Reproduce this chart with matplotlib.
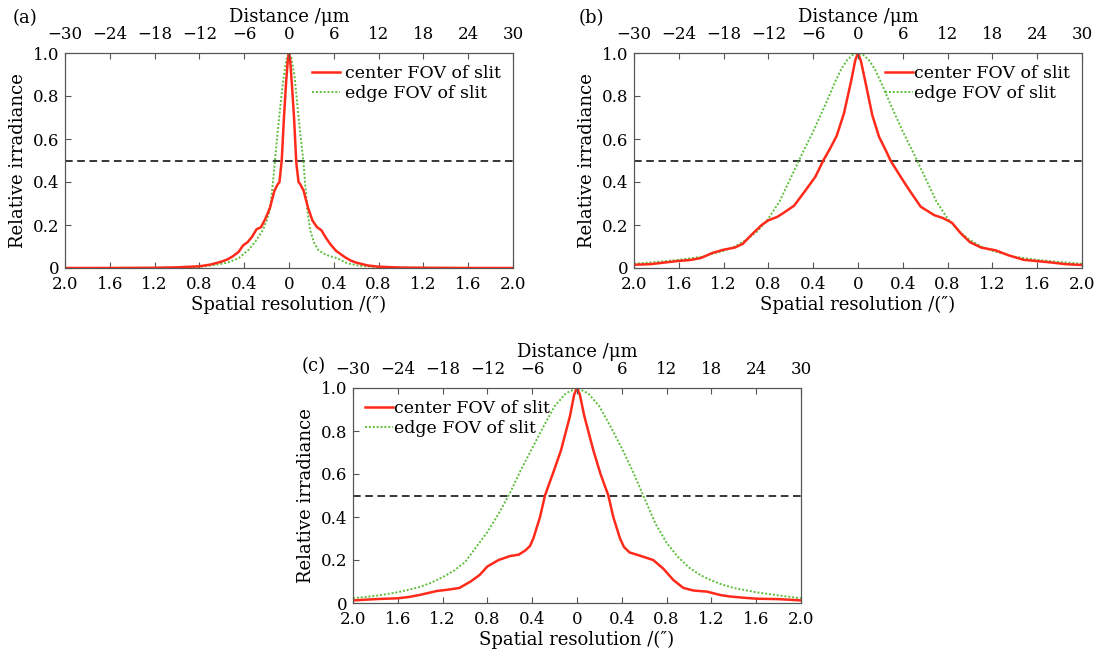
import matplotlib
matplotlib.use("Agg")
import matplotlib.pyplot as plt

plt.rcParams['font.family'] = ['DejaVu Serif']
plt.rcParams['font.size'] = 12

# bottom / top axis ticks
res_ticks = [-2.0, -1.6, -1.2, -0.8, -0.4, 0, 0.4, 0.8, 1.2, 1.6, 2.0]
res_labels = ["2.0", "1.6", "1.2", "0.8", "0.4", "0", "0.4", "0.8", "1.2", "1.6", "2.0"]
dist_ticks = [-30, -24, -18, -12, -6, 0, 6, 12, 18, 24, 30]
y_ticks = [0, 0.2, 0.4, 0.6, 0.8, 1.0]
y_labels = ["0", "0.2", "0.4", "0.6", "0.8", "1.0"]

# (a) center FOV
a_cx = [-2.0, -1.6, -1.2, -1.0, -0.8, -0.7, -0.6, -0.55, -0.5, -0.45, -0.41, -0.37, -0.33,
        -0.29, -0.25, -0.21, -0.17, -0.13, -0.1, -0.085, -0.065, -0.045, -0.025, -0.01, 0,
        0.01, 0.025, 0.045, 0.065, 0.085, 0.1, 0.13, 0.17, 0.21, 0.25, 0.29, 0.33, 0.37, 0.42,
        0.5, 0.55, 0.6, 0.7, 0.8, 1.0, 1.2, 1.6, 2.0]
a_cy = [0, 0, 0.001, 0.003, 0.008, 0.016, 0.03, 0.04, 0.055, 0.075, 0.105, 0.12, 0.145,
        0.18, 0.19, 0.23, 0.28, 0.36, 0.39, 0.40, 0.50, 0.70, 0.87, 0.97, 1.0,
        0.97, 0.86, 0.70, 0.49, 0.40, 0.39, 0.36, 0.28, 0.22, 0.19, 0.175, 0.14, 0.11, 0.08,
        0.05, 0.035, 0.025, 0.012, 0.006, 0.002, 0.001, 0, 0]
# (a) edge FOV
a_ex = [-2.0, -1.2, -1.0, -0.8, -0.65, -0.55, -0.45, -0.36, -0.29, -0.23, -0.2, -0.17,
        -0.145, -0.125, -0.1, -0.08, -0.05, -0.02, 0, 0.02, 0.05, 0.08, 0.1, 0.128, 0.143,
        0.164, 0.187, 0.21, 0.226, 0.26, 0.3, 0.34, 0.43, 0.52, 0.63, 0.8, 1.0, 1.2, 2.0]
a_ey = [0, 0.001, 0.002, 0.005, 0.015, 0.025, 0.045, 0.085, 0.13, 0.18, 0.22, 0.27,
        0.39, 0.5, 0.64, 0.74, 0.88, 0.98, 1.0, 0.98, 0.89, 0.73, 0.63, 0.50, 0.40,
        0.27, 0.18, 0.14, 0.115, 0.085, 0.07, 0.06, 0.045, 0.022, 0.01, 0.004, 0.002, 0.001, 0]

# (b) center FOV
b_cx = [-2.0, -1.85, -1.7, -1.6, -1.5, -1.4, -1.3, -1.2, -1.1, -1.03, -0.95, -0.86, -0.8,
        -0.72, -0.66, -0.57, -0.47, -0.38, -0.31, -0.25, -0.19, -0.125, -0.057, -0.025, 0,
        0.025, 0.06, 0.128, 0.188, 0.25, 0.29, 0.38, 0.457, 0.56, 0.68, 0.76, 0.84, 0.92, 1.0,
        1.1, 1.23, 1.35, 1.48, 1.6, 1.72, 1.85, 2.0]
b_cy = [0.015, 0.018, 0.027, 0.033, 0.037, 0.047, 0.07, 0.085, 0.095, 0.112, 0.155, 0.2, 0.222,
        0.238, 0.258, 0.29, 0.36, 0.425, 0.50, 0.555, 0.615, 0.72, 0.88, 0.965, 1.0,
        0.965, 0.88, 0.71, 0.61, 0.545, 0.50, 0.425, 0.363, 0.285, 0.246, 0.232, 0.21, 0.16, 0.12,
        0.095, 0.082, 0.058, 0.038, 0.032, 0.026, 0.018, 0.014]
# (b) edge FOV
b_ex = [-2.0, -1.8, -1.6, -1.4, -1.2, -1.1, -1.0, -0.9, -0.8, -0.7, -0.6, -0.5, -0.4, -0.3,
        -0.2, -0.15, -0.1, -0.05, 0, 0.05, 0.1, 0.15, 0.2, 0.3, 0.4, 0.5, 0.6, 0.7, 0.8, 0.9,
        1.0, 1.1, 1.2, 1.4, 1.6, 1.8, 2.0]
b_ey = [0.02, 0.028, 0.038, 0.052, 0.08, 0.1, 0.13, 0.17, 0.23, 0.31, 0.42, 0.53, 0.635, 0.75,
        0.87, 0.925, 0.965, 0.99, 1.0, 0.99, 0.965, 0.925, 0.87, 0.75, 0.635, 0.53, 0.42, 0.31,
        0.23, 0.17, 0.13, 0.1, 0.08, 0.052, 0.038, 0.028, 0.02]

# (c) center FOV
c_cx = [-2.0, -1.8, -1.6, -1.5, -1.4, -1.25, -1.15, -1.05, -0.95, -0.87, -0.8, -0.7, -0.6,
        -0.52, -0.46, -0.42, -0.39, -0.33, -0.286, -0.21, -0.143, -0.0625, -0.025, 0,
        0.025, 0.065, 0.146, 0.21, 0.28, 0.324, 0.384, 0.42, 0.47, 0.5625, 0.68, 0.77, 0.86,
        0.95, 1.04, 1.16, 1.28, 1.37, 1.5, 1.6, 1.8, 2.0]
c_cy = [0.012, 0.018, 0.022, 0.028, 0.038, 0.056, 0.062, 0.07, 0.1, 0.13, 0.17, 0.2, 0.218,
        0.225, 0.245, 0.265, 0.30, 0.40, 0.50, 0.61, 0.71, 0.87, 0.97, 1.0,
        0.97, 0.87, 0.71, 0.60, 0.50, 0.40, 0.30, 0.26, 0.235, 0.22, 0.20, 0.16, 0.107,
        0.07, 0.058, 0.053, 0.037, 0.03, 0.024, 0.02, 0.018, 0.012]
# (c) edge FOV
c_ex = [-2.0, -1.8, -1.6, -1.4, -1.3, -1.2, -1.1, -1.0, -0.9, -0.8, -0.7, -0.6, -0.5, -0.4,
        -0.3, -0.2, -0.1, 0, 0.1, 0.2, 0.3, 0.4, 0.5, 0.6, 0.7, 0.8, 0.9, 1.0, 1.1, 1.2,
        1.3, 1.4, 1.6, 1.8, 2.0]
c_ey = [0.022, 0.033, 0.05, 0.075, 0.095, 0.12, 0.15, 0.19, 0.26, 0.33, 0.415, 0.51, 0.62, 0.72,
        0.82, 0.915, 0.975, 1.0, 0.975, 0.915, 0.82, 0.72, 0.61, 0.49, 0.37, 0.28, 0.215, 0.165,
        0.13, 0.105, 0.085, 0.07, 0.05, 0.035, 0.022]

RED = '#ff2a1a'
GREEN = '#5cbf3a'
SPINE = '#555555'


def draw_panel(ax, cx, cy, ex, ey, legend_loc, textpad):
    ax.plot(cx, cy, color=RED, lw=1.8, label="center FOV of slit", zorder=3)
    ax.plot(ex, ey, color=GREEN, lw=1.4, ls=(0, (1, 1)), label="edge FOV of slit", zorder=2)
    ax.axhline(0.5, color='black', lw=1.1, ls=(0, (5, 3)), zorder=1)

    ax.set_xlim(-2, 2)
    ax.set_ylim(0, 1)
    ax.set_xticks(res_ticks)
    ax.set_xticklabels(res_labels)
    ax.set_yticks(y_ticks)
    ax.set_yticklabels(y_labels)
    ax.tick_params(direction='in', length=4, color=SPINE, labelsize=12)
    ax.tick_params(axis='x', pad=6)
    ax.tick_params(axis='y', pad=4)
    ax.set_xlabel("Spatial resolution /(″)", fontsize=13, labelpad=2)
    ax.set_ylabel("Relative irradiance", fontsize=13, labelpad=4)
    for s in ax.spines.values():
        s.set_color(SPINE)

    top = ax.twiny()
    top.set_xlim(-30, 30)
    top.set_xticks(dist_ticks)
    top.tick_params(direction='in', length=4, color=SPINE, pad=7, labelsize=12)
    top.set_xlabel("Distance /μm", fontsize=13, labelpad=3)
    for s in top.spines.values():
        s.set_color(SPINE)

    ax.legend(loc=legend_loc, frameon=False, fontsize=12.5, handlelength=1.6,
              handletextpad=textpad, labelspacing=0.15, borderaxespad=0.3)


fig = plt.figure(figsize=(11, 6.58), dpi=100)

ax_a = fig.add_axes([65 / 1100, 1 - 268 / 658, 448 / 1100, 215 / 658])
ax_b = fig.add_axes([634 / 1100, 1 - 268 / 658, 448 / 1100, 215 / 658])
ax_c = fig.add_axes([353 / 1100, 1 - 603 / 658, 448 / 1100, 215 / 658])

draw_panel(ax_a, a_cx, a_cy, a_ex, a_ey, "upper right", 0.3)
draw_panel(ax_b, b_cx, b_cy, b_ex, b_ey, "upper right", 0.05)
draw_panel(ax_c, c_cx, c_cy, c_ex, c_ey, "upper left", 0.05)

fig.text(13 / 1100, 1 - 18 / 658, "(a)", fontsize=13, va='center', ha='left')
fig.text(579 / 1100, 1 - 18 / 658, "(b)", fontsize=13, va='center', ha='left')
fig.text(302 / 1100, 1 - 366 / 658, "(c)", fontsize=13, va='center', ha='left')

fig.savefig("out.png", dpi=100)
